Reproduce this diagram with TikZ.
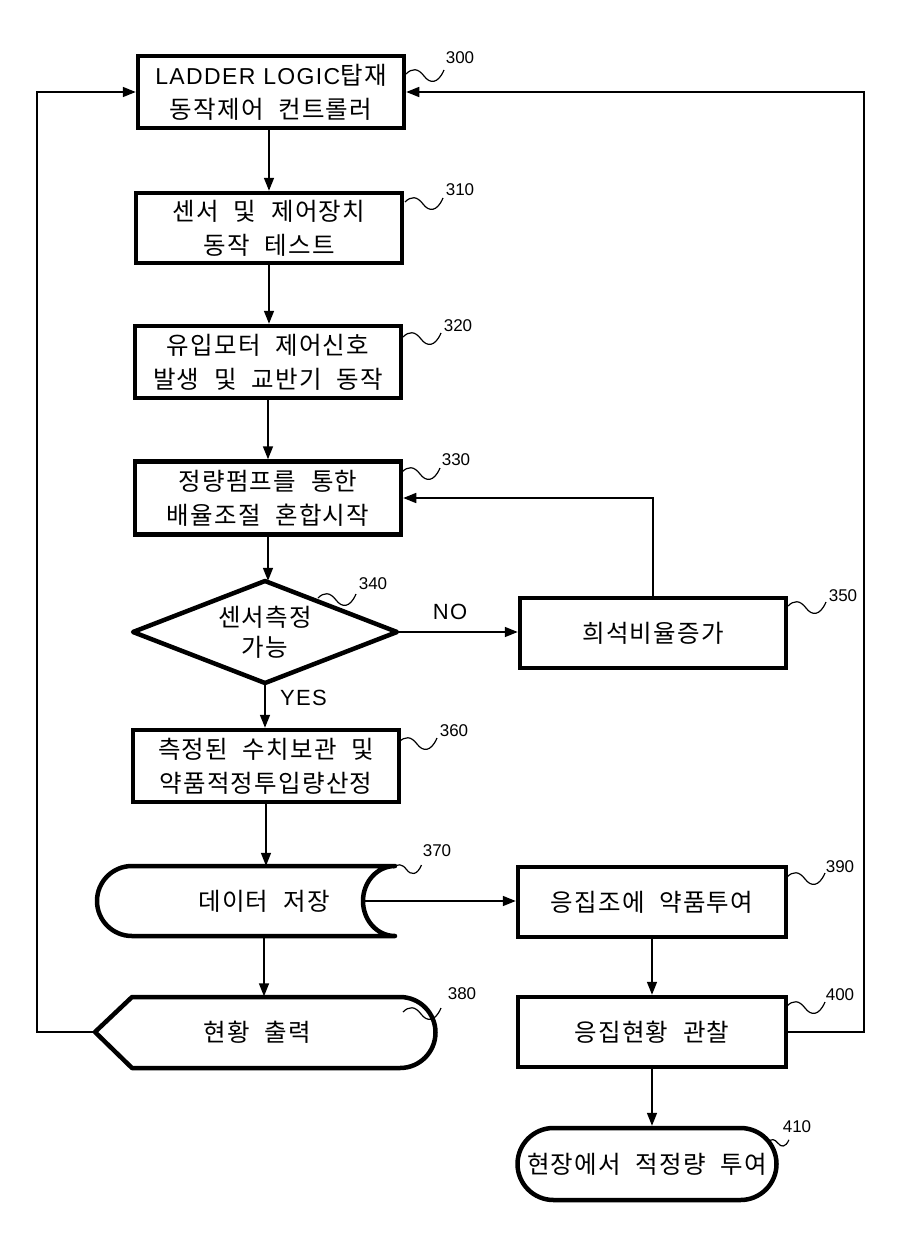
\documentclass[tikz,border=0pt]{standalone}
\usepackage{fontspec}
\setmainfont{Liberation Sans}
\newfontfamily\kr{Noto Sans CJK KR}[LetterSpace=5,WordSpace=2.2]
\newfontfamily\lat{Liberation Sans}[LetterSpace=6]
\usetikzlibrary{arrows.meta,shapes.geometric,shapes.misc}
\begin{document}
\begin{tikzpicture}[x=1pt,y=-1pt,
  box/.style={draw, line width=4.5pt, minimum width=266pt, minimum height=72pt, align=center, inner sep=0pt, font=\kr\fontsize{24.5}{34}\selectfont},
  txt/.style={draw=none, align=center, inner sep=0pt, font=\kr\fontsize{24.5}{30}\selectfont},
  outline/.style={line width=4.5pt, line join=round},
  arr/.style={-{Triangle[length=13pt,width=10pt]}, line width=1.6pt},
  lab/.style={font=\fontsize{17}{17}\selectfont, inner sep=0pt},
  yn/.style={font=\lat\fontsize{22}{22}\selectfont, inner sep=0pt},
  sqg/.pic={\draw[line width=1.2pt] (0,0) .. controls (6,-6) and (12,-6) .. (18,2) .. controls (24,10) and (32,10) .. (38,-4);}
]
\useasboundingbox (0,0) rectangle (907,1244);
% main column
\node[box] (n300) at (271,92) {{\lat\fontsize{23}{34}\selectfont LADDER LOGIC}탑재\\동작제어 컨트롤러};
\node[box, minimum height=70pt] (n310) at (269,228) {센서 및 제어장치\\동작 테스트};
\node[box] (n320) at (268,362) {유입모터 제어신호\\발생 및 교반기 동작};
\node[box, minimum height=73pt] (n330) at (268,498) {정량펌프를 통한\\배율조절 혼합시작};
% diamond
\draw[outline] (133,632) -- (265,581) -- (397,632) -- (265,683) -- cycle;
\node[txt, minimum width=264pt, minimum height=102pt] (n340) at (265,632) {센서측정\\가능};
\node[box] (n360) at (266,766) {측정된 수치보관 및\\약품적정투입량산정};
% storage 370
\draw[outline] (395,866) -- (132,866) arc[start angle=270, end angle=90, x radius=35, y radius=35] -- (395,936)
  arc[start angle=90, end angle=270, x radius=32, y radius=35] -- cycle;
\node[txt, minimum width=200pt, minimum height=70pt] (n370) at (264,901) {데이터 저장};
\coordinate (c370) at (363,901);
% display 380
\draw[outline] (95,1032) -- (132,997) -- (400,997) arc[start angle=-90, end angle=90, radius=35.5] -- (132,1068) -- cycle;
\node[txt, minimum width=200pt, minimum height=71pt] (n380) at (257,1032) {현황 출력};
\coordinate (c380) at (95,1032);
% right column
\node[box, minimum width=266pt, minimum height=70pt] (n350) at (653,633) {희석비율증가};
\node[box, minimum width=268pt, minimum height=70pt] (n390) at (652,902) {응집조에 약품투여};
\node[box, minimum width=268pt, minimum height=70pt] (n400) at (652,1032) {응집현황 관찰};
\node[draw, line width=4.5pt, rounded rectangle, minimum width=259pt, minimum height=72pt, inner sep=0pt, font=\kr\fontsize{24.5}{34}\selectfont] (n410) at (647,1164) {현장에서 적정량 투여};
% connectors
\draw[arr] (n300.south -| n310.north) -- (n310.north);
\draw[arr] (n310.south) -- (n310.south |- n320.north);
\draw[arr] (n320.south) -- (n320.south |- n330.north);
\draw[arr] (n330.south) -- (n330.south |- n340.north);
\draw[arr] (n340.east) -- (n340.east -| n350.west);
\draw[arr] (n350.north) |- (n330.east);
\draw[arr] (n340.south) -- (n340.south |- n360.north);
\draw[arr] (n360.south) -- (n360.south |- n370.north);
\draw[arr] (c370) -- (c370 -| n390.west);
\draw[arr] (n370.south) -- (n370.south |- n380.north);
\draw[arr] (n390.south) -- (n400.north);
\draw[arr] (n400.south) -- (n400.south |- n410.north);
\draw[arr] (c380) -- ++(-58,0) |- (n300.west);
\draw[arr] (n400.east) -- ++(76,0) |- (n300.east);
\node[yn] (no) at (450,612) {NO};
\node[yn, anchor=west] (yes) at (280,698) {YES};
% labels
\pic at (406,74) {sqg}; \node[lab] (l300) at (460,58) {300};
\pic at (405,202) {sqg}; \node[lab] (l310) at (460,190) {310};
\pic at (403,337) {sqg}; \node[lab] (l320) at (458,326) {320};
\pic at (402,472) {sqg}; \node[lab] (l330) at (456,460) {330};
\pic at (318,598) {sqg}; \node[lab] (l340) at (373,584) {340};
\pic at (788,606) {sqg}; \node[lab] (l350) at (843,596) {350};
\pic at (399,742) {sqg}; \node[lab] (l360) at (454,731) {360};
\pic[scale=0.75] at (393,868) {sqg}; \node[lab] (l370) at (437,851) {370};
\pic at (403,1012) {sqg}; \node[lab] (l380) at (462,994) {380};
\pic at (787,877) {sqg}; \node[lab] (l390) at (840,867) {390};
\pic at (787,1006) {sqg}; \node[lab] (l400) at (840,995) {400};
\pic[scale=0.55] at (768,1142) {sqg}; \node[lab] (l410) at (797,1127) {410};
\end{tikzpicture}
\end{document}
